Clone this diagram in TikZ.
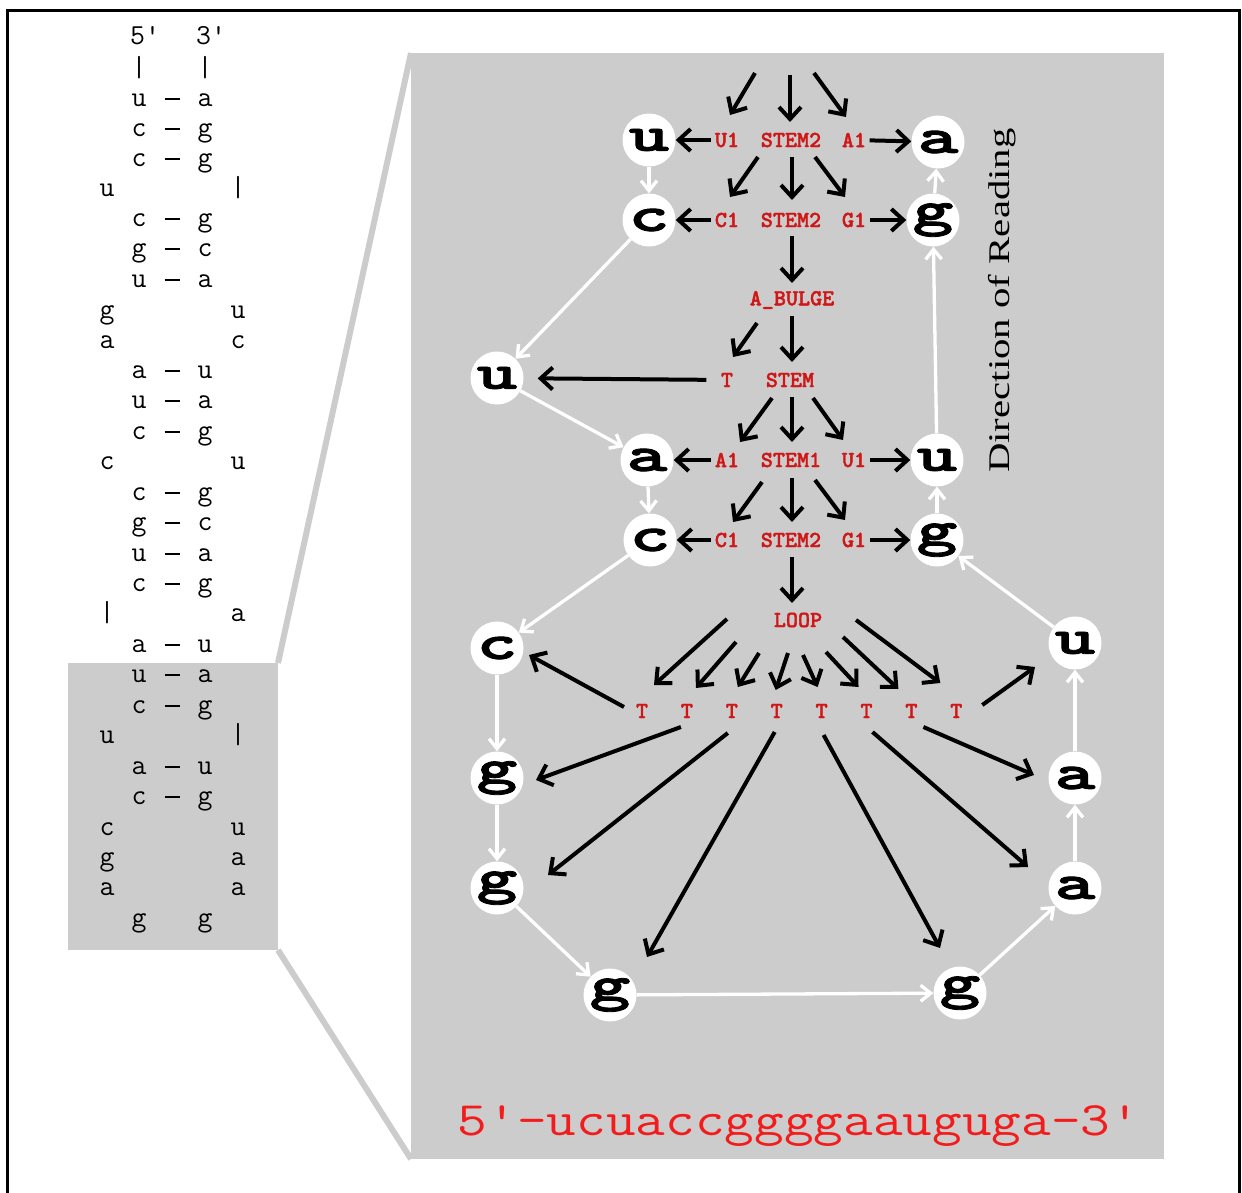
\documentclass[tikz,border=0pt]{standalone}
\usepackage{fontspec}
\newfontfamily\readfont{Liberation Serif}
\newfontfamily\heavymono{lmmonolt10-bold.otf}[FakeBold=1.6]
\usetikzlibrary{arrows.meta}
\definecolor{panelgray}{RGB}{204,204,204}
\definecolor{labred}{RGB}{208,22,22}
\definecolor{seqred}{RGB}{242,28,28}
\newcommand{\wide}[1]{\scalebox{1.55}[1]{#1}}
\newcommand{\bond}{\raisebox{6pt}{\rule{15pt}{2pt}}}
\tikzset{
  nuc/.style={circle,fill=white,inner sep=0pt,minimum size=53pt,
    font=\heavymono\fontsize{50pt}{50pt}\selectfont},
  lab/.style={text=labred,font=\heavymono\fontsize{23pt}{23pt}\selectfont},
  blk/.style={line width=4pt,-{Straight Barb[length=12pt,width=22pt]}},
  wht/.style={white,line width=3.3pt,-{Straight Barb[length=10pt,width=16pt]}},
  ltr/.style={anchor=base,inner sep=0pt,font=\ttfamily\fontsize{29pt}{29pt}\selectfont}
}
\begin{document}
\begin{tikzpicture}[x=1pt,y=-1pt]
  \useasboundingbox (0,0) rectangle (1242,1192);
  % panels and frame
  \fill[panelgray] (68,663) rectangle (278,950);
  \fill[panelgray] (411,53) rectangle (1164,1159);
  \draw[panelgray,line width=6pt] (278,663) -- (411,53);
  \draw[panelgray,line width=6pt] (278,950) -- (411,1159);
  \draw[line width=3pt] (7,1200) -- (7,10) -- (1239,10) -- (1239,1200);

  % secondary structure, left
  \node[ltr] (five) at (145,44) {5'};
  \node[ltr] (three) at (211,44) {3'};
  \foreach \y/\a/\b/\c/\d/\e [count=\i] in {
      70/{}/|/{}/|/{}, 100/{}/u/\bond/a/{}, 130/{}/c/\bond/g/{}, 160/{}/c/\bond/g/{},
      190/u/{}/{}/{}/|, 220/{}/c/\bond/g/{}, 250/{}/g/\bond/c/{}, 281/{}/u/\bond/a/{},
      312/g/{}/{}/{}/u, 342/a/{}/{}/{}/c, 372/{}/a/\bond/u/{}, 402/{}/u/\bond/a/{},
      433/{}/c/\bond/g/{}, 463/c/{}/{}/{}/u, 494/{}/c/\bond/g/{}, 524/{}/g/\bond/c/{},
      555/{}/u/\bond/a/{}, 585/{}/c/\bond/g/{}, 615/|/{}/{}/{}/a, 646/{}/a/\bond/u/{},
      676/{}/u/\bond/a/{}, 707/{}/c/\bond/g/{}, 737/u/{}/{}/{}/|, 768/{}/a/\bond/u/{},
      798/{}/c/\bond/g/{}, 829/c/{}/{}/{}/u, 859/g/{}/{}/{}/a, 889/a/{}/{}/{}/a,
      920/{}/g/{}/g/{}}
  {
    \node[ltr] (p\i-1) at (107,\y+6) {\a};
    \node[ltr] (p\i-2) at (139,\y+6) {\b};
    \node[ltr] (p\i-3) at (172,\y+6) {\c};
    \node[ltr] (p\i-4) at (205,\y+6) {\d};
    \node[ltr] (p\i-5) at (238,\y+6) {\e};
  }

  % nucleotides 5' -> 3'
  \foreach \b/\x/\y [count=\i] in {u/649/140, c/649/220, u/497/378, a/647/460,
      c/650/540, c/497/648, g/497/778, g/497/888, g/610/995, g/960/993,
      a/1075/888, a/1075/778, u/1075/643, g/937/540, u/937/460, g/933/220,
      a/938/142}
    \node[nuc] (n\i) at (\x,\y) {\wide{\b}};
  \foreach \i [count=\j from 2] in {1,...,16}
    \draw[wht] (n\i) -- (n\j);

  % parse labels
  \node[lab] (u1l) at (727,140) {U1};
  \node[lab] (s1) at (791,140) {STEM2};
  \node[lab] (a1l) at (854,140) {A1};
  \node[lab] (c1l) at (727,220) {C1};
  \node[lab] (s2) at (791,220) {STEM2};
  \node[lab] (g1l) at (854,220) {G1};
  \node[lab] (bulge) at (792,300) {A\_BULGE};
  \node[lab] (tl) at (727,380) {T};
  \node[lab] (s3) at (790,380) {STEM};
  \node[lab] (a2l) at (727,460) {A1};
  \node[lab] (s4) at (791,460) {STEM1};
  \node[lab] (u2l) at (854,460) {U1};
  \node[lab] (c2l) at (727,540) {C1};
  \node[lab] (s5) at (791,540) {STEM2};
  \node[lab] (g2l) at (854,540) {G1};
  \node[lab] (loop) at (798,620) {LOOP};
  \foreach \k in {1,...,8}
    \node[lab] (t\k) at ({642+44.9*(\k-1)},711) {T};

  % side arrows
  \draw[blk] (u1l) -- (n1);
  \draw[blk] (a1l) -- (n17);
  \draw[blk] (c1l) -- (n2);
  \draw[blk] (g1l) -- (n16);
  \draw[blk,shorten <=11pt,shorten >=14pt] (tl) -- (n3);
  \draw[blk] (a2l) -- (n4);
  \draw[blk] (u2l) -- (n15);
  \draw[blk] (c2l) -- (n5);
  \draw[blk] (g2l) -- (n14);

  % tree arrows
  \coordinate (in1) at (755,73);
  \coordinate (in2) at (790,75);
  \coordinate (in3) at (814,73);
  \draw[blk] (in1) -- ([shift={(3,-25)}]u1l.center);
  \draw[blk] (in2) -- ([shift={(-1,-18)}]s1.center);
  \draw[blk] (in3) -- ([shift={(-8,-23)}]a1l.center);
  \draw[blk] ([shift={(-33,17)}]s1.center) -- ([shift={(3,-23)}]c1l.center);
  \draw[blk] ([shift={(1,17)}]s1.center) -- ([shift={(1,-20)}]s2.center);
  \draw[blk] ([shift={(24,17)}]s1.center) -- ([shift={(-9,-23)}]g1l.center);
  \draw[blk] ([shift={(1,16)}]s2.center) -- ([shift={(0,-17)}]bulge.center);
  \draw[blk] ([shift={(-35,23)}]bulge.center) -- ([shift={(6,-23)}]tl.center);
  \draw[blk] ([shift={(0,16)}]bulge.center) -- ([shift={(2,-18)}]s3.center);
  \draw[blk] ([shift={(-18,18)}]s3.center) -- ([shift={(13,-18)}]a2l.center);
  \draw[blk] ([shift={(2,17)}]s3.center) -- ([shift={(1,-18)}]s4.center);
  \draw[blk] ([shift={(23,18)}]s3.center) -- ([shift={(-11,-20)}]u2l.center);
  \draw[blk] ([shift={(-29,22)}]s4.center) -- ([shift={(6,-18)}]c2l.center);
  \draw[blk] ([shift={(1,18)}]s4.center) -- ([shift={(1,-18)}]s5.center);
  \draw[blk] ([shift={(24,20)}]s4.center) -- ([shift={(-9,-20)}]g2l.center);
  \draw[blk] ([shift={(1,17)}]s5.center) -- ([shift={(-6,-17)}]loop.center);

  % loop fan
  \foreach \k/\sx/\sy/\tx/\ty in {1/-71/-1/12/-26, 2/-62/22/9/-23,
      3/-39/33/6/-24, 4/-10/33/-1/-21, 5/5/35/-4/-24, 6/28/32/-8/-24,
      7/45/17/-13/-22, 8/58/0/-16/-28}
    \draw[blk] ([shift={(\sx,\sy)}]loop.center) -- ([shift={(\tx,\ty)}]t\k.center);
  \foreach \k/\sx/\sy/\m/\tx/\ty in {1/-18/-4/6/32/7, 2/-6/16/7/39/2,
      3/-4/22/8/51/-13, 4/-2/21/9/37/-38, 5/2/24/10/-20/-45,
      6/6/21/11/-47/-21, 7/12/16/12/-41/-3, 8/26/-6/13/-40/24}
    \draw[blk] ([shift={(\sx,\sy)}]t\k.center) -- ([shift={(\tx,\ty)}]n\m.center);

  % captions
  \node[rotate=90,anchor=base west,inner sep=0pt,
    font=\readfont\fontsize{30pt}{30pt}\selectfont] (dir) at (1009,473)
    {\scalebox{1.36}[1]{Direction of Reading}};
  \node[anchor=base,inner sep=0pt,text=seqred,
    font=\ttfamily\fontsize{48pt}{48pt}\selectfont] (seq) at (799,1135)
    {\scalebox{1.2}[1]{5'-ucuaccggggaauguga-3'}};
\end{tikzpicture}
\end{document}
